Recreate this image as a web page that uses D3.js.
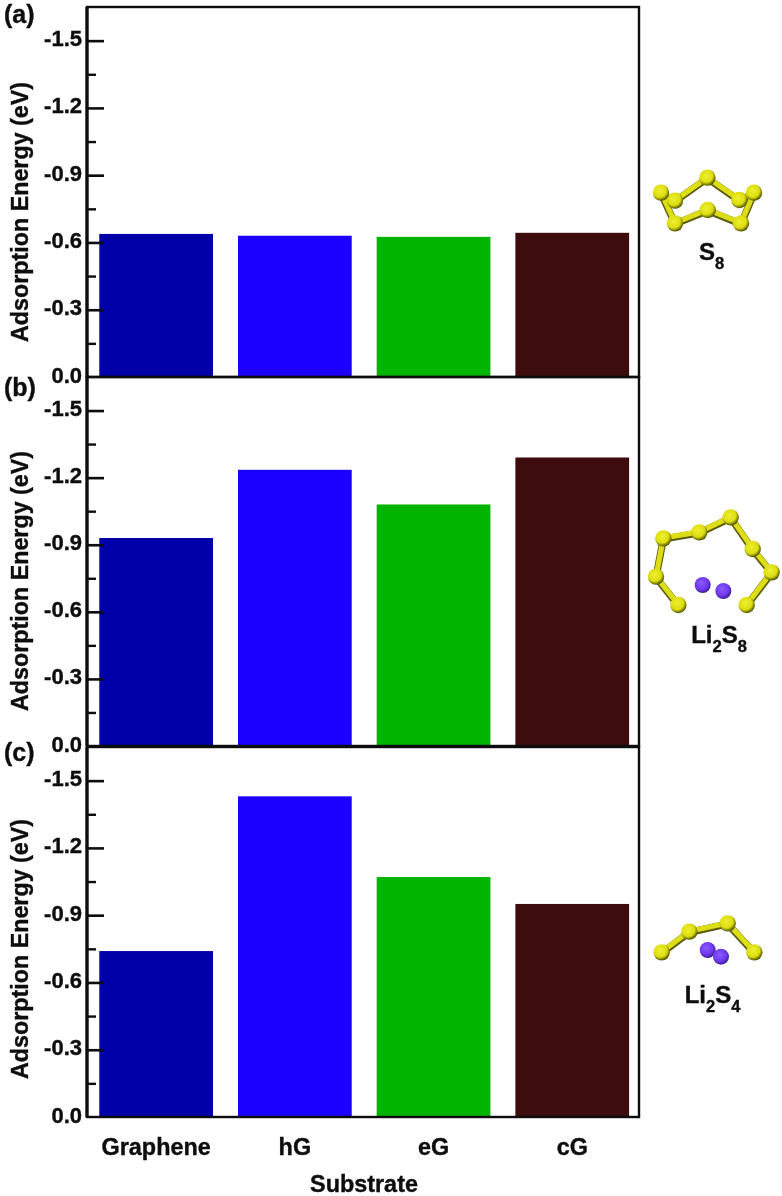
<!DOCTYPE html>
<html><head><meta charset="utf-8">
<script src="https://cdn.jsdelivr.net/npm/d3@7/dist/d3.min.js"></script>
<style>html,body{margin:0;padding:0;background:#fff}svg{display:block}text{font-family:"Liberation Sans",Arial,sans-serif;font-weight:bold;fill:#0a0a0a;stroke:#0a0a0a;stroke-width:0.35px}</style>
</head><body><svg id="c" width="782" height="1196"></svg>
<script>
const categories = ["Graphene","hG","eG","cG"];
const barColors = ["#0000a8","#1a00ff","#00b400","#3e0810"];
const panelLetters = ["(a)","(b)","(c)"];
const valuesS8 = [-0.638,-0.630,-0.625,-0.643];
const valuesLi2S8 = [-0.93,-1.235,-1.08,-1.29];
const valuesLi2S4 = [-0.74,-1.43,-1.07,-0.95];
const majorTicks = [0,-0.3,-0.6,-0.9,-1.2,-1.5];
const minorTicks = [-0.15,-0.45,-0.75,-1.05,-1.35];
const yTitle = "Adsorption Energy (eV)";
const xTitle = "Substrate";

// molecule sketches: atom positions in the sketch's own units, bonds as index pairs
const s8Atoms = [[135,122],[328,120],[93,98],[135,190],[233,150],[333,190],[372,98],[232,53]];
const s8Bonds = [[2,3],[3,4],[4,5],[5,6],[6,1],[1,7],[7,0],[0,2]];
const s8Li = [];
const li2s8Atoms = [[145,315],[78,230],[100,115],[208,97],[302,52],[368,147],[425,217],[350,315]];
const li2s8Bonds = [[0,1],[1,2],[2,3],[3,4],[4,5],[5,6],[6,7]];
const li2s8Li = [[218,255],[280,273]];
const li2s4Atoms = [[95,157],[178,95],[293,70],[373,157]];
const li2s4Bonds = [[0,1],[1,2],[2,3]];
const li2s4Li = [[233,150],[273,170]];

const svg = d3.select("#c");
const defs = svg.append("defs");
const grad = (id,c0,c1,c2)=>{const g=defs.append("radialGradient").attr("id",id).attr("cx","42%").attr("cy","38%").attr("r","62%");
  g.append("stop").attr("offset","0%").attr("stop-color",c0);g.append("stop").attr("offset","65%").attr("stop-color",c1);g.append("stop").attr("offset","100%").attr("stop-color",c2);};
grad("sAtom","#eef030","#dcdd10","#4f5000");
grad("liAtom","#8a5cff","#7038f0","#3c2090");
defs.append("filter").attr("id","soft").append("feGaussianBlur").attr("stdDeviation",0.5);

const left=87,right=639;
const x = d3.scaleBand().domain(categories).range([86.8,641.6]).paddingInner(0.18).paddingOuter(0.09);
const panels = [
 {vals:valuesS8,top:7,bottom:377,letterY:14,titleY:212},
 {vals:valuesLi2S8,top:377,bottom:746,letterY:387,titleY:581},
 {vals:valuesLi2S4,top:747,bottom:1117,letterY:752,titleY:949}];

const root = svg.append("g").attr("filter","url(#soft)");
panels.forEach((p,i)=>{
  const y = d3.scaleLinear().domain([0,-1.65]).range([p.bottom,p.top]);
  const g = root.append("g");
  g.selectAll("rect.bar").data(p.vals).join("rect").attr("class","bar")
    .attr("x",(d,j)=>x(categories[j])).attr("width",x.bandwidth())
    .attr("y",d=>y(d)).attr("height",d=>y(0)-y(d))
    .attr("fill",(d,j)=>barColors[j]);
  g.append("rect").attr("x",left).attr("y",p.top).attr("width",right-left).attr("height",p.bottom-p.top)
    .attr("fill","none").attr("stroke","#0a0a0a").attr("stroke-width",2.4);
  g.append("line").attr("x1",left).attr("x2",left).attr("y1",p.top).attr("y2",p.bottom).attr("stroke","#0a0a0a").attr("stroke-width",3.2);
  const minor = g.append("g").attr("transform",`translate(${left},0)`)
    .call(d3.axisLeft(y).tickValues(minorTicks).tickSize(-9).tickFormat(""));
  minor.select(".domain").remove();
  minor.selectAll("line").attr("stroke","#0a0a0a").attr("stroke-width",2.4);
  const major = g.append("g").attr("transform",`translate(${left},0)`)
    .call(d3.axisLeft(y).tickValues(majorTicks).tickSize(-17).tickFormat(d=>d3.format(".1f")(d).replace("\u2212","-")));
  major.select(".domain").remove();
  major.selectAll("line").attr("stroke","#0a0a0a").attr("stroke-width",2.6);
  major.selectAll("text").attr("x",-5).attr("y",-2).attr("font-size",22).attr("font-family",null)
    .style("font-family",'"Liberation Sans",Arial,sans-serif').style("font-weight","bold");
  major.selectAll(".tick").filter(d=>d===0).select("line").remove();
  root.append("text").attr("x",4).attr("y",p.letterY).attr("dy","0.35em").attr("font-size",25).text(panelLetters[i]);
  root.append("text").attr("transform",`translate(20,${p.titleY}) rotate(-90)`)
    .attr("text-anchor","middle").attr("dy","0.35em").attr("font-size",23.3).text(yTitle);
});
root.selectAll("text.cat").data(categories).join("text").attr("class","cat")
  .attr("x",d=>x(d)+x.bandwidth()/2).attr("y",1147).attr("dy","0.35em").attr("text-anchor","middle").attr("font-size",23.4).text(d=>d);
root.append("text").attr("x",364).attr("y",1184).attr("dy","0.35em").attr("text-anchor","middle").attr("font-size",23.4).text(xTitle);

const mol = (atoms,bonds,lis,ox,oy)=>{
  const sx=d3.scaleLinear().domain([0,152*3]).range([ox,ox+152]);
  const sy=d3.scaleLinear().domain([0,600]).range([oy,oy+200]);
  const g=root.append("g");
  const lines=(col,w,dy)=>g.append("g").selectAll("line").data(bonds).join("line")
    .attr("x1",d=>sx(atoms[d[0]][0])).attr("y1",d=>sy(atoms[d[0]][1])+dy)
    .attr("x2",d=>sx(atoms[d[1]][0])).attr("y2",d=>sy(atoms[d[1]][1])+dy)
    .attr("stroke",col).attr("stroke-width",w);
  lines("#5c5c08",7.2,0.7);lines("#dede18",5.2,-0.4);
  g.append("g").selectAll("circle").data(atoms).join("circle")
    .attr("cx",d=>sx(d[0])).attr("cy",d=>sy(d[1])).attr("r",8.2).attr("fill","url(#sAtom)");
  g.append("g").selectAll("circle").data(lis).join("circle")
    .attr("cx",d=>sx(d[0])).attr("cy",d=>sy(d[1])).attr("r",8).attr("fill","url(#liAtom)");
};
mol(s8Atoms,s8Bonds,s8Li,630,160);
mol(li2s8Atoms,li2s8Bonds,li2s8Li,630,500);
mol(li2s4Atoms,li2s4Bonds,li2s4Li,630,900);

const formula=(parts,cx,yy)=>{
  const t=root.append("text").attr("x",cx).attr("y",yy).attr("text-anchor","middle").attr("font-size",24);
  parts.forEach(([s,sub],k)=>{const ts=t.append("tspan").text(s);
    if(sub){ts.attr("font-size",16.5).attr("dy",9);} else if(k>0){ts.attr("dy",-9);}});
};
formula([["S",0],["8",1]],711.5,260);
formula([["Li",0],["2",1],["S",0],["8",1]],719,643);
formula([["Li",0],["2",1],["S",0],["4",1]],712.5,1003);
</script></body></html>
